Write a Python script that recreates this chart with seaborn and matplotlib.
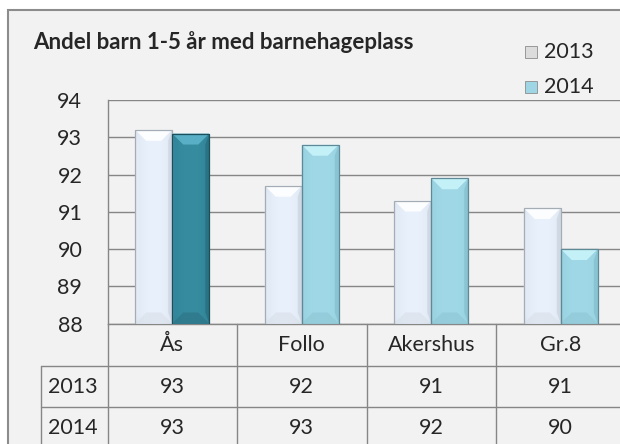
import numpy as np
import pandas as pd
import matplotlib
matplotlib.use('Agg')
import matplotlib.pyplot as plt
import matplotlib.transforms as mtransforms
from matplotlib.patches import Rectangle, Polygon
from matplotlib.colors import to_rgb
import seaborn as sns

# data
categories = ['Ås', 'Follo', 'Akershus', 'Gr.8']
years = ['2013', '2014']
values_2013 = [93.2, 91.7, 91.3, 91.1]
values_2014 = [93.1, 92.8, 91.9, 90.0]
yticks = [88, 89, 90, 91, 92, 93, 94]
title = 'Andel barn 1-5 år med barnehageplass'

df = pd.DataFrame({
    'omrade': categories * 2,
    'aar': [years[0]] * len(categories) + [years[1]] * len(categories),
    'andel': values_2013 + values_2014,
})

sns.set_style('white')
plt.rcParams['font.family'] = ['Lato', 'DejaVu Sans']

W, H = 620, 444
fig = plt.figure(figsize=(W / 100, H / 100), dpi=100, facecolor='white')

def fx(p):
    return p / W

def fy(p):
    return 1 - p / H

GRID = '#868686'
FS = 15.5

# chart frame
fig.add_artist(Rectangle((fx(8), fy(470)), fx(660) - fx(8), fy(10) - fy(470),
                         transform=fig.transFigure, facecolor='#F2F2F2',
                         edgecolor='#8C8C8C', lw=1.5, zorder=0))

ax = fig.add_axes([fx(107.5), fy(323.5), fx(625.5) - fx(107.5), fy(100) - fy(323.5)])
ax.set_facecolor('none')

sns.barplot(data=df, x='omrade', y='andel', hue='aar', palette=['#EAF2FC', '#A2D9E8'],
            width=0.572, gap=0, linewidth=0, legend=False, ax=ax, zorder=3)

ax.set_ylim(yticks[0], yticks[-1])
ax.set_xlim(-0.5, len(categories) - 0.5)
ax.set_yticks(yticks)
ax.set_yticklabels([str(t) for t in yticks])
ax.yaxis.grid(True, color=GRID, lw=1.0)
ax.set_axisbelow(True)
ax.set_xlabel('')
ax.set_ylabel('')
ax.tick_params(axis='x', length=0, labelbottom=False)
ax.tick_params(axis='y', length=6.1, width=1.0, color=GRID, pad=12, labelsize=FS)
for s in ['top', 'right']:
    ax.spines[s].set_visible(False)
for s in ['left', 'bottom']:
    ax.spines[s].set_color(GRID)
    ax.spines[s].set_linewidth(1.0)

# bar styles: (center, edge, top, bottom, left, right, outline)
style_13 = ('#E9F1FC', '#D6DEE9', '#FFFFFF', '#D8DFE8', '#E6EDF7', '#CAD2DD', '#A4ACB6')
style_14 = ('#A0D8E7', '#92CCDB', '#C9F5FB', '#8FC6D4', '#9CD4E3', '#84BDCC', '#5E8996')
style_dark = ('#378CA0', '#2E7E91', '#5DB4CA', '#2C7284', '#3489A0', '#276C7D', '#1B4F5C')

ax_w_px = (fx(625.5) - fx(107.5)) * W
ax_h_px = (fy(100) - fy(323.5)) * H
bev = 11
dx = bev / (ax_w_px / len(categories))
dy = bev / (ax_h_px / (yticks[-1] - yticks[0]))
side = 4
sx = side / (ax_w_px / len(categories))
ybot = yticks[0]

for ci, cont in enumerate(ax.containers):
    for bi, bar in enumerate(cont.patches):
        if ci == 0:
            st = style_13
        elif bi == 0:
            st = style_dark
        else:
            st = style_14
        bar.set_alpha(0)
        x0 = bar.get_x()
        w = bar.get_width()
        top = bar.get_y() + bar.get_height()
        x1 = x0 + w
        t = np.linspace(0, 1, 60)
        prof = np.sin(np.pi * t) ** 0.4
        c_in, c_out = np.array(to_rgb(st[0])), np.array(to_rgb(st[1]))
        img = c_out[None, :] + (c_in - c_out)[None, :] * prof[:, None]
        ax.imshow(img[None, :, :], extent=[x0, x1, ybot, top], aspect='auto',
                  zorder=3.5, interpolation='bilinear')
        polys = [
            ([(x0, top), (x1, top), (x1 - dx, top - dy), (x0 + dx, top - dy)], st[2], 0.9),
            ([(x0, ybot), (x1, ybot), (x1 - dx, ybot + dy), (x0 + dx, ybot + dy)], st[3], 0.6),
            ([(x0, top), (x0 + sx, top - dy), (x0 + sx, ybot + dy), (x0, ybot)], st[4], 0.6),
            ([(x1, top), (x1 - sx, top - dy), (x1 - sx, ybot + dy), (x1, ybot)], st[5], 0.7),
        ]
        for pts, col, a in polys:
            ax.add_patch(Polygon(pts, closed=True, facecolor=col, edgecolor='none',
                                 zorder=4, alpha=a))
        ax.add_patch(Rectangle((x0, ybot), w, top - ybot, fill=False,
                               edgecolor=st[6], lw=0.9, zorder=5))

ax.set_ylim(yticks[0], yticks[-1])
ax.set_xlim(-0.5, len(categories) - 0.5)

# title
fig.text(fx(32.7), fy(49), title, fontsize=16, fontweight='bold', va='baseline')

# legend
leg_cols = ['#DCDCDC', '#9ED6E5']
leg_y = [51.7, 86.7]
for yr, col, yy in zip(years, leg_cols, leg_y):
    fig.add_artist(Rectangle((fx(525), fy(yy + 6)), fx(12), fy(0) - fy(12),
                             transform=fig.transFigure, facecolor=col,
                             edgecolor='#8C8C8C', lw=0.6))
    fig.text(fx(544), fy(yy), yr, fontsize=FS, va='center', ha='left')

# data table
blend = mtransforms.blended_transform_factory(ax.transData, fig.transFigure)
tbl_line = dict(color=GRID, lw=1.0, clip_on=False)
row_y = [323.5, 366, 407, 448]
for i in range(1, len(categories) + 1):
    ax.plot([i - 0.5, i - 0.5], [fy(row_y[0]), fy(460)], transform=blend, **tbl_line)
ax.plot([-0.5, -0.5], [fy(row_y[0]), fy(460)], transform=blend, **tbl_line)
for yy in row_y[1:3]:
    fig.add_artist(plt.Line2D([fx(41.3), 1], [fy(yy), fy(yy)], color=GRID, lw=1.0))
fig.add_artist(plt.Line2D([fx(41.3), fx(41.3)], [fy(row_y[1]), fy(460)], color=GRID, lw=1.0))

cy = [(row_y[k] + row_y[k + 1]) / 2 for k in range(3)]
for i, name in enumerate(categories):
    ax.text(i, fy(cy[0]), name, transform=blend, ha='center', va='center', fontsize=FS)
for r, (yr, vals) in enumerate(zip(years, [values_2013, values_2014])):
    fig.text(fx(73), fy(cy[r + 1]), yr, ha='center', va='center', fontsize=FS)
    for i, v in enumerate(vals):
        ax.text(i, fy(cy[r + 1]), f'{v:.0f}', transform=blend, ha='center',
                va='center', fontsize=FS)

fig.savefig('out.png', dpi=100)
